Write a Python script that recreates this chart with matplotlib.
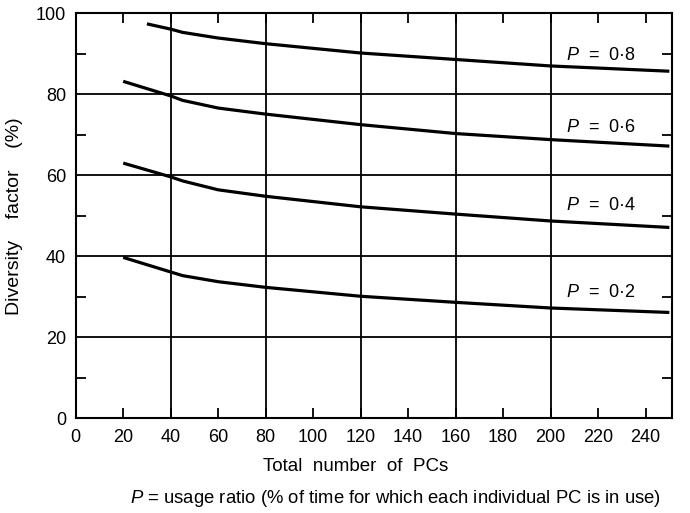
import matplotlib
matplotlib.use("Agg")
import matplotlib.pyplot as plt
from matplotlib.ticker import MultipleLocator

plt.rcParams['font.family'] = ['Liberation Sans', 'DejaVu Sans']
plt.rcParams['mathtext.fontset'] = 'custom'
plt.rcParams['mathtext.it'] = 'Liberation Sans:italic'
plt.rcParams['mathtext.rm'] = 'Liberation Sans'

# courbes
x_08 = [30, 40, 45, 60, 80, 120, 160, 200, 250]
y_08 = [97.4, 96.1, 95.3, 93.9, 92.5, 90.2, 88.6, 87.0, 85.7]
x_06 = [20, 40, 45, 60, 80, 120, 160, 200, 250]
y_06 = [83.2, 79.6, 78.5, 76.6, 75.1, 72.5, 70.3, 68.8, 67.2]
x_04 = [20, 40, 45, 60, 80, 120, 160, 200, 250]
y_04 = [63.0, 59.6, 58.6, 56.4, 54.8, 52.2, 50.4, 48.7, 47.1]
x_02 = [20, 40, 45, 60, 80, 120, 160, 200, 250]
y_02 = [39.7, 36.1, 35.2, 33.7, 32.3, 30.1, 28.6, 27.2, 26.1]

labels = ['0·8', '0·6', '0·4', '0·2']
label_y = [89.6, 71.9, 52.6, 31.0]

grid_x = [40, 80, 120, 160, 200]
grid_y = [20, 40, 60, 80]

fig = plt.figure(figsize=(6.9, 5.13), dpi=100)
ax = fig.add_axes([0.1097, 0.185, 0.8638, 0.789])

for gx in grid_x:
    ax.axvline(gx, color='black', lw=1.3, zorder=1)
for gy in grid_y:
    ax.axhline(gy, color='black', lw=1.3, zorder=1)

for X, Y in [(x_08, y_08), (x_06, y_06), (x_04, y_04), (x_02, y_02)]:
    ax.plot(X, Y, color='black', lw=2.3, solid_capstyle='butt', zorder=2)

for lab, ly in zip(labels, label_y):
    ax.text(206.5, ly, '$P$  =  ' + lab, fontsize=13, va='center', ha='left')

ax.set_xlim(0, 251)
ax.set_ylim(0, 100)
ax.set_xticks(range(0, 241, 20))
ax.set_yticks(range(0, 101, 20))
ax.yaxis.set_minor_locator(MultipleLocator(10))
ax.tick_params(axis='x', which='major', direction='in', top=True, length=7,
               width=1.3, labelsize=13, pad=8)
ax.tick_params(axis='y', which='major', length=0, labelsize=13, pad=7)
ax.tick_params(axis='y', which='minor', direction='in', right=True, length=7,
               width=1.3)
for s in ax.spines.values():
    s.set_linewidth(1.5)

ax.set_ylabel('Diversity    factor    (%)', fontsize=14, labelpad=9)
fig.text(0.516, 0.09, 'Total  number  of  PCs', fontsize=13.5, ha='center', va='center')
fig.text(0.573, 0.029, '$P$ = usage ratio (% of time for which each individual PC is in use)',
         fontsize=13.3, ha='center', va='center')

fig.savefig('out.png', dpi=100)
